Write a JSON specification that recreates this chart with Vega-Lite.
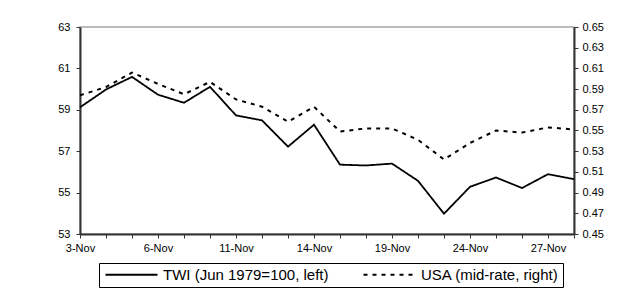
{
  "$schema": "https://vega.github.io/schema/vega-lite/v6.json",
  "autosize": {"type": "none"},
  "width": 494,
  "height": 207,
  "padding": {"left": 80, "top": 27, "right": 68, "bottom": 66},
  "background": "white",
  "config": {
    "font": "Liberation Sans",
    "view": {"stroke": "#a6a6a6", "strokeWidth": 1.5},
    "axis": {"labelFont": "Liberation Sans", "labelFontSize": 11, "labelColor": "#000", "domainColor": "#333", "domainWidth": 2, "tickColor": "#333", "tickSize": 4, "tickWidth": 1, "grid": false, "title": null}
  },
  "data": {"values": [
    {"d": "3-Nov", "twi": 59.12, "usa": 0.584},
    {"d": "4-Nov", "twi": 59.98, "usa": 0.592},
    {"d": "5-Nov", "twi": 60.59, "usa": 0.606},
    {"d": "6-Nov", "twi": 59.73, "usa": 0.595},
    {"d": "7-Nov", "twi": 59.34, "usa": 0.585},
    {"d": "10-Nov", "twi": 60.11, "usa": 0.597},
    {"d": "11-Nov", "twi": 58.73, "usa": 0.58},
    {"d": "12-Nov", "twi": 58.49, "usa": 0.573},
    {"d": "13-Nov", "twi": 57.22, "usa": 0.5585},
    {"d": "14-Nov", "twi": 58.28, "usa": 0.573},
    {"d": "17-Nov", "twi": 56.35, "usa": 0.549},
    {"d": "18-Nov", "twi": 56.31, "usa": 0.552},
    {"d": "19-Nov", "twi": 56.4, "usa": 0.552},
    {"d": "20-Nov", "twi": 55.57, "usa": 0.541},
    {"d": "21-Nov", "twi": 53.98, "usa": 0.522},
    {"d": "24-Nov", "twi": 55.28, "usa": 0.538},
    {"d": "25-Nov", "twi": 55.73, "usa": 0.55},
    {"d": "26-Nov", "twi": 55.22, "usa": 0.548},
    {"d": "27-Nov", "twi": 55.89, "usa": 0.553},
    {"d": "28-Nov", "twi": 55.65, "usa": 0.551}
  ]},
  "encoding": {
    "x": {
      "field": "d", "type": "ordinal", "sort": null,
      "scale": {"type": "point", "padding": 0},
      "axis": {"labelAngle": 0, "labelPadding": 4, "labelExpr": "indexof(['3-Nov','6-Nov','11-Nov','14-Nov','19-Nov','24-Nov','27-Nov'], datum.value) >= 0 ? datum.value : ''"}
    }
  },
  "layer": [
    {
      "mark": {"type": "line", "color": "black", "strokeWidth": 1.8},
      "encoding": {
        "y": {"field": "twi", "type": "quantitative", "scale": {"domain": [53, 63], "nice": false, "zero": false}, "axis": {"values": [53, 55, 57, 59, 61, 63], "orient": "left", "labelPadding": 6}},
        "strokeDash": {"datum": "TWI (Jun 1979=100, left)", "type": "nominal",
          "scale": {"domain": ["TWI (Jun 1979=100, left)", "USA (mid-rate, right)"], "range": [[1, 0], [4, 5]]},
          "legend": {"orient": "none", "legendX": 19, "legendY": 236, "direction": "horizontal", "title": null, "symbolType": "M-1,0H9.4", "symbolSize": 100, "symbolStrokeColor": "black", "symbolStrokeWidth": 1.8, "labelFont": "Liberation Sans", "labelFontSize": 15, "labelColor": "#000", "labelLimit": 300, "strokeColor": "black", "padding": 4, "columnPadding": 30, "labelOffset": 45}}
      }
    },
    {
      "mark": {"type": "line", "color": "black", "strokeWidth": 2},
      "encoding": {
        "y": {"field": "usa", "type": "quantitative", "scale": {"domain": [0.45, 0.65], "nice": false, "zero": false}, "axis": {"values": [0.45, 0.47, 0.49, 0.51, 0.53, 0.55, 0.57, 0.59, 0.61, 0.63, 0.65], "format": ".2f", "orient": "right", "labelPadding": 4}},
        "strokeDash": {"datum": "USA (mid-rate, right)", "type": "nominal"}
      }
    }
  ],
  "resolve": {"scale": {"y": "independent"}}
}
